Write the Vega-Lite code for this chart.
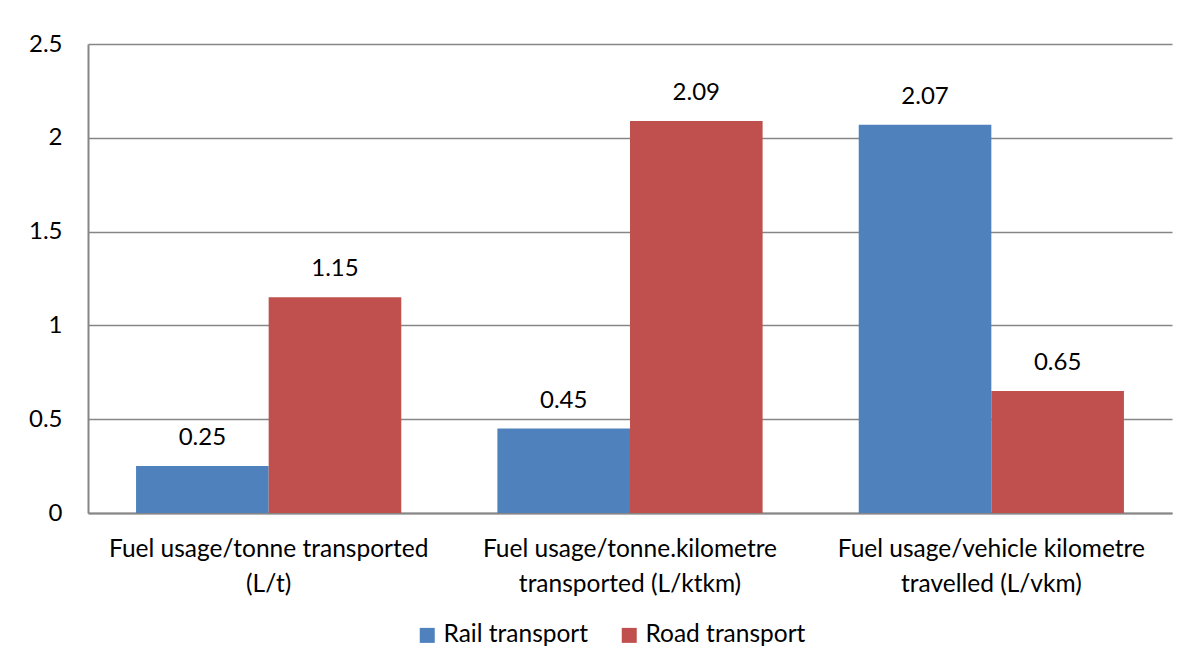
{
  "$schema": "https://vega.github.io/schema/vega-lite/v6.json",
  "width": 1084,
  "height": 469,
  "autosize": {"type": "none"},
  "padding": {"left": 88, "top": 44, "right": 15, "bottom": 156},
  "background": "white",
  "data": {
    "values": [
      {"category": "Fuel usage/tonne transported|(L/t)", "series": "Rail transport", "value": 0.25},
      {"category": "Fuel usage/tonne transported|(L/t)", "series": "Road transport", "value": 1.15},
      {"category": "Fuel usage/tonne.kilometre|transported (L/ktkm)", "series": "Rail transport", "value": 0.45},
      {"category": "Fuel usage/tonne.kilometre|transported (L/ktkm)", "series": "Road transport", "value": 2.09},
      {"category": "Fuel usage/vehicle kilometre|travelled (L/vkm)", "series": "Rail transport", "value": 2.07},
      {"category": "Fuel usage/vehicle kilometre|travelled (L/vkm)", "series": "Road transport", "value": 0.65}
    ]
  },
  "encoding": {
    "x": {
      "field": "category",
      "type": "nominal",
      "sort": null,
      "scale": {"paddingInner": 0.266, "paddingOuter": 0.133},
      "axis": {
        "title": null,
        "labelAngle": 0,
        "labelExpr": "split(datum.value, '|')",
        "labelFont": "Lato",
        "labelFontSize": 24.5,
        "labelColor": "black",
        "labelLineHeight": 35,
        "labelPadding": 24,
        "labelLimit": 0,
        "ticks": false,
        "domainColor": "#868686",
        "domainWidth": 2,
        "labelBaseline": "top"
      }
    },
    "xOffset": {"field": "series", "type": "nominal", "sort": ["Rail transport", "Road transport"]},
    "y": {
      "field": "value",
      "type": "quantitative",
      "scale": {"domain": [0, 2.5]},
      "axis": {
        "title": null,
        "values": [0, 0.5, 1, 1.5, 2, 2.5],
        "format": "~g",
        "labelFont": "Lato",
        "labelFontSize": 24,
        "labelColor": "black",
        "labelPadding": 26,
        "ticks": false,
        "domainColor": "#868686",
        "domainWidth": 2,
        "gridColor": "#868686",
        "gridWidth": 1.5
      }
    }
  },
  "layer": [
    {
      "mark": {"type": "bar"},
      "encoding": {
        "color": {
          "field": "series",
          "type": "nominal",
          "scale": {"domain": ["Rail transport", "Road transport"], "range": ["#4F81BD", "#C0504D"]},
          "legend": {
            "title": null,
            "orient": "none",
            "direction": "horizontal",
            "legendX": 327,
            "legendY": 579,
            "symbolType": "square",
            "symbolSize": 225,
            "symbolStrokeWidth": 0,
            "symbolOpacity": 1,
            "labelFont": "Lato",
            "labelFontSize": 24.5,
            "labelColor": "black",
            "labelOffset": 4,
            "columnPadding": 28
          }
        }
      }
    },
    {
      "mark": {"type": "text", "baseline": "middle", "dy": -28, "font": "Lato", "fontSize": 24, "color": "black"},
      "encoding": {
        "text": {"field": "value", "type": "quantitative", "format": ".2f"}
      }
    }
  ],
  "config": {
    "view": {"stroke": null}
  }
}
